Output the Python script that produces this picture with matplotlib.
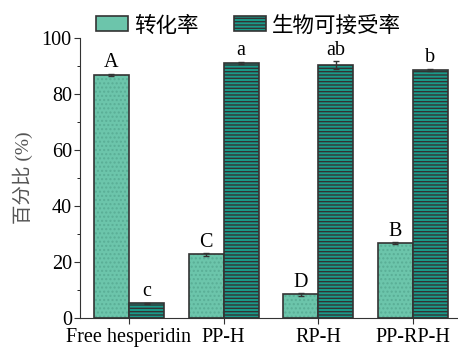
import numpy as np
import matplotlib
matplotlib.use("Agg")
import matplotlib.pyplot as plt
from matplotlib.patches import Patch

plt.rcParams['font.family'] = ['Liberation Serif', 'Noto Sans CJK SC']
plt.rcParams['hatch.linewidth'] = 1.0

categories = ["Free hesperidin", "PP-H", "RP-H", "PP-RP-H"]
conversion = [86.7, 22.7, 8.4, 26.7]
conversion_err = [0.4, 0.4, 0.4, 0.3]
bioaccess = [5.2, 91.2, 90.3, 88.7]
bioaccess_err = [0.3, 0.4, 1.4, 0.3]
conv_labels = ["A", "C", "D", "B"]
bio_labels = ["c", "a", "ab", "b"]

fig = plt.figure(figsize=(4.58, 3.49), dpi=100)
ax = fig.add_axes([0.175, 0.089, 0.83, 0.802])

x = np.arange(len(categories))
w = 0.37
edge = "#333333"

# light dotted fill, then outline on top
ax.bar(x - w / 2, conversion, w, color="#6cc5ab", edgecolor="#5aae96",
       linewidth=0, hatch="....")
ax.bar(x - w / 2, conversion, w, yerr=conversion_err, fill=False,
       edgecolor=edge, linewidth=1.2, capsize=2,
       error_kw=dict(elinewidth=1, ecolor=edge))
ax.bar(x + w / 2, bioaccess, w, yerr=bioaccess_err, color="#1a9a8a",
       edgecolor=edge, linewidth=1.2, hatch="-----", capsize=2,
       error_kw=dict(elinewidth=1, ecolor=edge))

for xi, v, e, t in zip(x - w / 2, conversion, conversion_err, conv_labels):
    ax.text(xi, v + e + 0.6, t, ha="center", va="bottom", fontsize=14.5)
for xi, v, e, t in zip(x + w / 2, bioaccess, bioaccess_err, bio_labels):
    ax.text(xi, v + e + 0.6, t, ha="center", va="bottom", fontsize=14.5)

ax.set_xlim(-0.516, 3.5)
ax.set_ylim(0, 100)
ax.set_xticks(x)
ax.set_xticklabels(categories, fontsize=14.5)
ax.set_yticks(np.arange(0, 101, 20))
ax.set_yticks(np.arange(10, 100, 20), minor=True)
ax.tick_params(axis="y", labelsize=14.5, direction="out", length=4, color=edge, pad=2)
ax.tick_params(axis="y", which="minor", length=2)
ax.tick_params(axis="x", length=4, color=edge, pad=3)
ax.set_ylabel("百分比 (%)", fontsize=14, color="#555555", labelpad=6)

ax.spines["top"].set_visible(False)
ax.spines["right"].set_visible(False)
ax.spines["left"].set_color(edge)
ax.spines["bottom"].set_color(edge)

handles = [
    Patch(facecolor="#6cc5ab", edgecolor=edge, linewidth=1.2, label="转化率"),
    Patch(facecolor="#1a9a8a", edgecolor=edge, linewidth=1.2, hatch="-----", label="生物可接受率"),
]
ax.legend(handles=handles, loc="lower center", bbox_to_anchor=(0.443, 0.975), ncol=2,
          frameon=False, fontsize=15.5, handlelength=1.5, handleheight=0.7,
          columnspacing=1.6, handletextpad=0.3, borderaxespad=0)

plt.savefig("out.png", dpi=100)
plt.close()
